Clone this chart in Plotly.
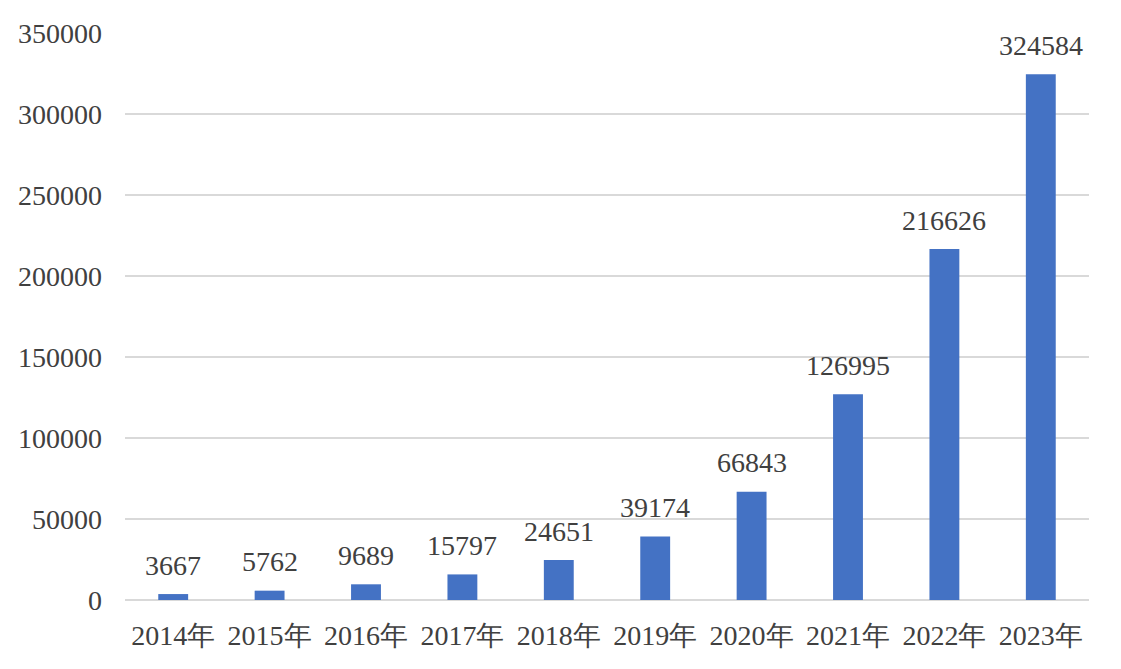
import plotly.graph_objects as go

categories = ["2014年", "2015年", "2016年", "2017年", "2018年", "2019年", "2020年", "2021年", "2022年", "2023年"]
values = [3667, 5762, 9689, 15797, 24651, 39174, 66843, 126995, 216626, 324584]
y_ticks = [0, 50000, 100000, 150000, 200000, 250000, 300000, 350000]

FONT = "Liberation Serif"
TEXT = "#404040"
SIZE = 28

fig = go.Figure()
fig.add_trace(go.Bar(
    x=categories, y=values,
    marker=dict(color="#4472C4", line=dict(width=0)),
    width=0.31,
    hoverinfo="x+y",
))

for c, v in zip(categories, values):
    fig.add_annotation(x=c, y=v, text=str(v), showarrow=False,
                       yanchor="middle", yshift=29,
                       font=dict(family=FONT, size=SIZE, color=TEXT))

fig.update_layout(
    width=1113, height=661,
    margin=dict(l=117, r=32, t=25, b=69, autoexpand=False),
    paper_bgcolor="white", plot_bgcolor="white",
    showlegend=False,
    font=dict(family=FONT, size=SIZE, color=TEXT),
    xaxis=dict(
        type="category", automargin=False,
        showgrid=False, showline=False, zeroline=False,
        tickfont=dict(family=FONT, size=SIZE, color=TEXT),
        ticks="", ticklabelstandoff=16,
    ),
    yaxis=dict(
        range=[0, 350000], tickvals=y_ticks, automargin=False,
        ticktext=[str(t) for t in y_ticks],
        showgrid=True, gridcolor="#D9D9D9", gridwidth=1.5,
        zeroline=True, zerolinecolor="#D9D9D9", zerolinewidth=2,
        showline=False, ticks="",
        tickfont=dict(family=FONT, size=SIZE, color=TEXT),
        ticklabelstandoff=22,
    ),
)

fig.write_html("out.html")
